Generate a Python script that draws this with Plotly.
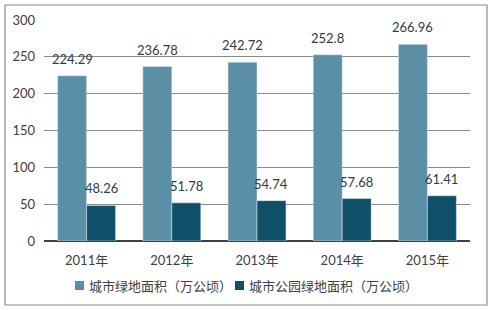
import plotly.graph_objects as go

years = ["2011年", "2012年", "2013年", "2014年", "2015年"]
green_area = [224.29, 236.78, 242.72, 252.8, 266.96]
park_area = [48.26, 51.78, 54.74, 57.68, 61.41]
name1 = "城市绿地面积（万公顷）"
name2 = "城市公园绿地面积（万公顷）"
colors = ["#5a8fa6", "#0d5068"]

font_fam = "Lato, 'Noto Sans CJK SC', sans-serif"
txtc = "#2f3a4a"

W, H = 492, 310
ML, MR, MT, MB = 44, 22, 20, 69
PW, PH = W - ML - MR, H - MT - MB

def px2x(px):
    return (px - ML) / PW

def py2y(py):
    return (H - MB - py) / PH

fig = go.Figure()
fig.add_trace(go.Bar(x=years, y=green_area, name=name1, marker_color=colors[0], showlegend=False))
fig.add_trace(go.Bar(x=years, y=park_area, name=name2, marker_color=colors[1], showlegend=False))

bargap = 0.32
bar_px = PW / len(years) * (1 - bargap) / 2
annotations = []
for series, sign in ((green_area, -1), (park_area, 1)):
    for yr, v in zip(years, series):
        annotations.append(dict(x=yr, y=v, xref="x", yref="y", text=f"{v:g}", showarrow=False,
                                xanchor="center", yanchor="bottom", xshift=sign * bar_px / 2, yshift=7,
                                font=dict(size=13, color=txtc)))

# custom legend
shapes = []
for name, col, mx in ((name1, colors[0], 75), (name2, colors[1], 235)):
    shapes.append(dict(type="rect", xref="paper", yref="paper", x0=px2x(mx), x1=px2x(mx + 9),
                       y0=py2y(290), y1=py2y(281), fillcolor=col, line=dict(width=0)))
    annotations.append(dict(x=px2x(mx + 12), y=py2y(285.5), xref="paper", yref="paper", text=name,
                            showarrow=False, xanchor="left", yanchor="middle",
                            font=dict(size=13, color="#404040")))

shapes.append(dict(type="rect", xref="paper", yref="paper", x0=px2x(5), x1=px2x(487),
                   y0=py2y(305), y1=py2y(5), line=dict(color="#8a8a8a", width=1.2)))

fig.update_layout(
    width=W, height=H,
    margin=dict(l=ML, r=MR, t=MT, b=MB, autoexpand=False),
    barmode="group", bargap=bargap, bargroupgap=0,
    plot_bgcolor="white", paper_bgcolor="white",
    font=dict(family=font_fam, size=12, color="#404040"),
    showlegend=False,
    yaxis=dict(range=[0, 300], tickvals=[0, 50, 100, 150, 200, 250, 300],
               showgrid=True, gridcolor="#8a8a8a", gridwidth=1,
               zeroline=True, zerolinecolor="#404040", zerolinewidth=1.5,
               tickfont=dict(size=13, color="#404040"), ticks="", ticklabelstandoff=8,
               showline=False),
    xaxis=dict(showline=False, ticks="", ticklabelstandoff=10,
               tickfont=dict(size=13, color="#404040")),
    shapes=shapes,
    annotations=annotations,
)

fig.write_html("out.html")
